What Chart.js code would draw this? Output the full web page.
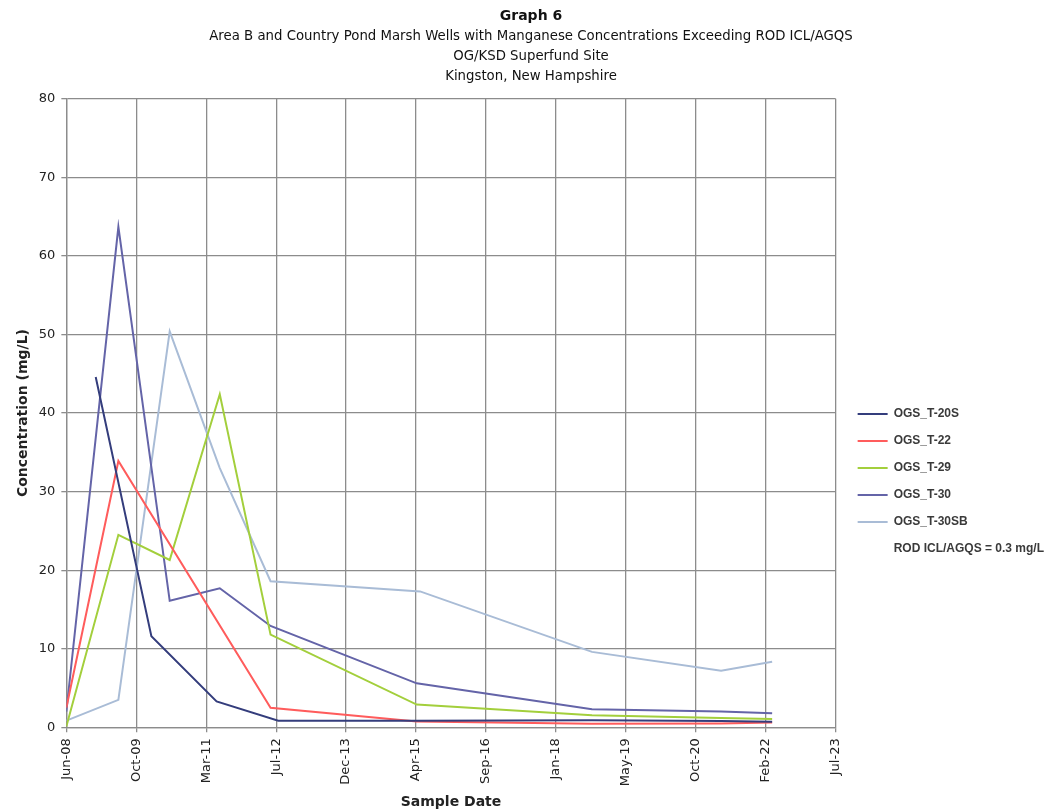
<!DOCTYPE html>
<html>
<head>
<meta charset="utf-8">
<script src="https://cdn.jsdelivr.net/npm/chart.js@4.4.1/dist/chart.umd.min.js"></script>
<style>
  body { margin: 0; background: #ffffff; }
  #wrap { position: relative; width: 1053px; height: 811px; }
</style>
</head>
<body>
<div id="wrap"><canvas id="graphCanvas"></canvas></div>
<script>
// sample dates / concentrations (mg/L)
const t20sDates = ['2009-01-11', '2010-02-13', '2011-05-25', '2012-08-08', '2015-04-25', '2018-09-29', '2021-04-09', '2022-04-09'];
const t20sVals = [44.6, 11.6, 3.3, 0.85, 0.85, 0.9, 0.8, 0.7];

const t22Dates = ['2008-06-15', '2009-06-22', '2012-06-14', '2015-04-25', '2018-09-29', '2021-04-09', '2022-04-09'];
const t22Vals = [2.5, 33.9, 2.5, 0.75, 0.45, 0.5, 0.6];

const t29Dates = ['2008-06-15', '2009-06-22', '2010-06-24', '2011-06-17', '2012-06-14', '2015-04-25', '2018-09-29', '2021-04-09', '2022-04-09'];
const t29Vals = [0.1, 24.5, 21.3, 42.4, 11.8, 2.9, 1.55, 1.2, 1.05];

const t30Dates = ['2008-06-15', '2009-06-22', '2010-06-24', '2011-06-17', '2012-06-14', '2015-04-25', '2018-09-29', '2021-04-09', '2022-04-09'];
const t30Vals = [2.0, 63.7, 16.1, 17.7, 12.9, 5.6, 2.3, 2.0, 1.8];

const t30sbDates = ['2008-06-15', '2009-06-22', '2010-06-24', '2011-06-17', '2012-06-14', '2015-05-19', '2018-09-29', '2021-04-09', '2022-04-09'];
const t30sbVals = [0.85, 3.5, 50.4, 33.0, 18.6, 17.3, 9.6, 7.2, 8.35];

const seriesNames = ['OGS_T-20S', 'OGS_T-22', 'OGS_T-29', 'OGS_T-30', 'OGS_T-30SB'];
const seriesColors = ['#343d7c', '#ff5c5c', '#a3cf3c', '#6464a8', '#a9bcd6'];
const rodLabel = 'ROD ICL/AGQS = 0.3 mg/L';

const xTickLabels = ['Jun-08', 'Oct-09', 'Mar-11', 'Jul-12', 'Dec-13', 'Apr-15', 'Sep-16', 'Jan-18', 'May-19', 'Oct-20', 'Feb-22', 'Jul-23'];
const axisStart = '2008-06-15';
const tickStepDays = 500;

const toDay = (s) => Date.parse(s + 'T00:00:00Z') / 86400000;
const xMin = toDay(axisStart);
const xMax = xMin + tickStepDays * (xTickLabels.length - 1);

const pts = (dates, vals) => dates.map((d, i) => ({ x: toDay(d), y: vals[i] }));
const allDates = [t20sDates, t22Dates, t29Dates, t30Dates, t30sbDates];
const allVals = [t20sVals, t22Vals, t29Vals, t30Vals, t30sbVals];

const datasets = seriesNames.map((name, i) => ({
  label: name,
  data: pts(allDates[i], allVals[i]),
  borderColor: seriesColors[i],
  backgroundColor: seriesColors[i],
  borderWidth: 2,
  pointRadius: 0,
  tension: 0,
}));
// legend-only entry, no line drawn for it
datasets.push({
  label: rodLabel,
  data: [],
  borderColor: 'rgba(0,0,0,0)',
  backgroundColor: 'rgba(0,0,0,0)',
  borderWidth: 2,
  pointRadius: 0,
});

// move the legend a bit right and down, like the Excel original
const legendNudge = {
  id: 'legendNudge',
  afterLayout(chart) {
    const lg = chart.legend;
    lg.left += 7; lg.right += 7;
    lg.top += 75; lg.bottom += 75;
  },
};

const fam = '"DejaVu Sans", Verdana, sans-serif';
const gridCol = '#8c8c8c';

new Chart(document.getElementById('graphCanvas'), {
  type: 'line',
  data: { datasets },
  plugins: [legendNudge],
  options: {
    responsive: true,
    maintainAspectRatio: false,
    animation: false,
    layout: { padding: { left: 15, right: 6, top: 2, bottom: 0 } },
    plugins: {
      title: {
        display: true,
        text: 'Graph 6',
        color: '#111',
        font: { family: fam, size: 14, weight: 'bold' },
        padding: { top: 6, bottom: 2 },
      },
      subtitle: {
        display: true,
        text: [
          'Area B and Country Pond Marsh Wells with Manganese Concentrations Exceeding ROD ICL/AGQS',
          'OG/KSD Superfund Site',
          'Kingston, New Hampshire',
        ],
        color: '#111',
        font: { family: fam, size: 13.3, lineHeight: '20px' },
        padding: { top: 0, bottom: 12 },
      },
      legend: {
        position: 'right',
        align: 'center',
        labels: {
          usePointStyle: true,
          pointStyle: 'line',
          pointStyleWidth: 30,
          padding: 15,
          color: '#3a3a3a',
          font: { family: '"Liberation Sans", Arial, sans-serif', size: 12, weight: 'bold' },
        },
      },
      tooltip: { enabled: false },
    },
    scales: {
      x: {
        type: 'linear',
        min: xMin,
        max: xMax,
        grid: { color: gridCol, lineWidth: 1.3, tickLength: 5 },
        border: { color: gridCol, width: 1.3 },
        ticks: {
          stepSize: tickStepDays,
          autoSkip: false,
          minRotation: 90,
          maxRotation: 90,
          padding: 6,
          color: '#222',
          font: { family: fam, size: 13 },
          callback: (v, i) => xTickLabels[i],
        },
        title: {
          display: true,
          text: 'Sample Date',
          color: '#222',
          font: { family: fam, size: 14, weight: 'bold' },
          padding: { top: 2, bottom: 0 },
        },
      },
      y: {
        min: 0,
        max: 80,
        grid: { color: gridCol, lineWidth: 1.3, tickLength: 5 },
        border: { color: gridCol, width: 1.3 },
        ticks: {
          stepSize: 10,
          padding: 6,
          color: '#222',
          font: { family: fam, size: 13 },
        },
        title: {
          display: true,
          text: 'Concentration (mg/L)',
          color: '#222',
          font: { family: fam, size: 14, weight: 'bold' },
          padding: { top: 0, bottom: 1 },
        },
      },
    },
  },
});
</script>
</body>
</html>
